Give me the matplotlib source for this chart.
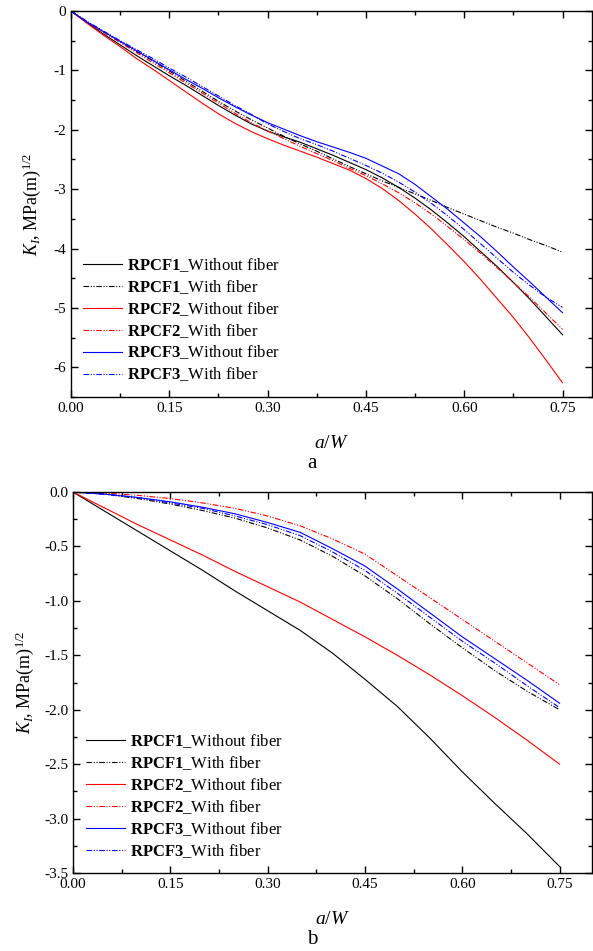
import numpy as np
import matplotlib
matplotlib.use("Agg")
import matplotlib.pyplot as plt
from matplotlib.ticker import MultipleLocator, FormatStrFormatter

plt.rcParams["font.family"] = ["Liberation Serif", "DejaVu Serif"]
plt.rcParams["mathtext.fontset"] = "custom"
plt.rcParams["mathtext.rm"] = "Liberation Serif"
plt.rcParams["mathtext.it"] = "Liberation Serif:italic"
plt.rcParams["mathtext.bf"] = "Liberation Serif:bold"
plt.rcParams["axes.unicode_minus"] = False

# ---- data ----
# panel a, a/W every 0.025
aw_a = [0.000, 0.025, 0.050, 0.075, 0.100, 0.125, 0.150, 0.175, 0.200, 0.225,
        0.250, 0.275, 0.300, 0.325, 0.350, 0.375, 0.400, 0.425, 0.450, 0.475,
        0.500, 0.525, 0.550, 0.575, 0.600, 0.625, 0.650, 0.675, 0.700, 0.725,
        0.750]
a_f1_wo = [0, -0.20, -0.39, -0.57, -0.75, -0.92, -1.09, -1.25, -1.42, -1.59,
           -1.75, -1.90, -2.02, -2.12, -2.21, -2.32, -2.43, -2.55, -2.67, -2.81,
           -2.97, -3.15, -3.35, -3.57, -3.80, -4.05, -4.30, -4.57, -4.85, -5.15,
           -5.45]
a_f1_w = [0, -0.18, -0.35, -0.52, -0.68, -0.84, -1.01, -1.18, -1.35, -1.52,
          -1.68, -1.83, -1.97, -2.11, -2.24, -2.36, -2.49, -2.62, -2.74, -2.86,
          -2.97, -3.08, -3.19, -3.31, -3.42, -3.53, -3.64, -3.74, -3.85, -3.95,
          -4.06]
a_f2_wo = [0, -0.21, -0.41, -0.60, -0.80, -0.98, -1.17, -1.36, -1.55, -1.73,
           -1.89, -2.03, -2.15, -2.26, -2.36, -2.46, -2.57, -2.68, -2.82, -2.99,
           -3.19, -3.42, -3.67, -3.94, -4.22, -4.52, -4.84, -5.16, -5.51, -5.88,
           -6.26]
a_f2_w = [0, -0.19, -0.36, -0.53, -0.70, -0.87, -1.04, -1.21, -1.38, -1.55,
          -1.72, -1.88, -2.02, -2.15, -2.28, -2.40, -2.52, -2.65, -2.77, -2.91,
          -3.06, -3.23, -3.42, -3.63, -3.85, -4.08, -4.32, -4.57, -4.82, -5.09,
          -5.36]
a_f3_wo = [0, -0.19, -0.35, -0.51, -0.67, -0.83, -0.99, -1.15, -1.30, -1.46,
           -1.61, -1.75, -1.88, -1.99, -2.10, -2.20, -2.29, -2.38, -2.48, -2.61,
           -2.74, -2.92, -3.13, -3.34, -3.57, -3.80, -4.05, -4.31, -4.56, -4.82,
           -5.08]
a_f3_w = [0, -0.18, -0.34, -0.50, -0.65, -0.80, -0.96, -1.11, -1.27, -1.43,
          -1.59, -1.74, -1.90, -2.03, -2.15, -2.25, -2.36, -2.48, -2.60, -2.73,
          -2.88, -3.05, -3.24, -3.45, -3.68, -3.92, -4.16, -4.40, -4.62, -4.82,
          -4.99]

# panel b, a/W every 0.05
aw_b = [0.00, 0.05, 0.10, 0.15, 0.20, 0.25, 0.30, 0.35,
        0.40, 0.45, 0.50, 0.55, 0.60, 0.65, 0.70, 0.75]
b_f1_wo = [0, -0.18, -0.36, -0.54, -0.72, -0.91, -1.09, -1.27,
           -1.48, -1.72, -1.97, -2.26, -2.57, -2.86, -3.14, -3.44]
b_f1_w = [0, -0.02, -0.06, -0.11, -0.17, -0.24, -0.33, -0.44,
          -0.59, -0.77, -0.98, -1.21, -1.43, -1.64, -1.83, -2.00]
b_f2_wo = [0, -0.15, -0.30, -0.44, -0.58, -0.73, -0.87, -1.01,
           -1.17, -1.33, -1.50, -1.68, -1.87, -2.07, -2.28, -2.50]
b_f2_w = [0, -0.01, -0.03, -0.06, -0.10, -0.15, -0.22, -0.31,
          -0.43, -0.57, -0.77, -0.97, -1.17, -1.37, -1.57, -1.77]
b_f3_wo = [0, -0.02, -0.05, -0.09, -0.14, -0.20, -0.28, -0.37,
           -0.52, -0.68, -0.89, -1.11, -1.33, -1.53, -1.73, -1.94]
b_f3_w = [0, -0.02, -0.05, -0.10, -0.15, -0.22, -0.30, -0.40,
          -0.55, -0.72, -0.93, -1.15, -1.37, -1.57, -1.78, -1.98]

labels = [r"$\mathbf{RPCF1}$_Without fiber", r"$\mathbf{RPCF1}$_With fiber",
          r"$\mathbf{RPCF2}$_Without fiber", r"$\mathbf{RPCF2}$_With fiber",
          r"$\mathbf{RPCF3}$_Without fiber", r"$\mathbf{RPCF3}$_With fiber"]
colors = ["black", "black", "red", "red", "blue", "blue"]
DD = (0, (5, 1.5, 1, 1.5, 1, 1.5))
styles = ["-", DD, "-", DD, "-", DD]

fig = plt.figure(figsize=(5.93, 9.51), dpi=100)
ax1 = fig.add_axes([0.1197, 0.5825, 0.8786, 0.4059])
ax2 = fig.add_axes([0.1231, 0.0820, 0.8752, 0.4006])


def draw(ax, x, series, ylim, ymaj, ymin, yfmt, xmax, leg_x):
    for y, c, ls, lab in zip(series, colors, styles, labels):
        ax.plot(x, y, color=c, ls=ls, lw=0.8, label=lab)
    ax.set_xlim(0, xmax)
    ax.set_ylim(*ylim)
    ax.xaxis.set_major_locator(MultipleLocator(0.15))
    ax.xaxis.set_minor_locator(MultipleLocator(0.075))
    ax.xaxis.set_major_formatter(FormatStrFormatter("%.2f"))
    ax.yaxis.set_major_locator(MultipleLocator(ymaj))
    ax.yaxis.set_minor_locator(MultipleLocator(ymin))
    ax.yaxis.set_major_formatter(FormatStrFormatter(yfmt))
    ax.tick_params(which="both", direction="in", top=True, right=True,
                   labelsize=11, width=1.0)
    ax.tick_params(which="major", length=5)
    ax.tick_params(which="minor", length=3)
    for sp in ax.spines.values():
        sp.set_linewidth(1.0)
    ax.set_xlabel(r"$a/W$", fontsize=14)
    ax.set_ylabel(r"$K_I$, MPa(m)$^{1/2}$", fontsize=13)
    ax.legend(loc="lower left", bbox_to_anchor=(leg_x, 0.035), frameon=False,
              fontsize=12, handlelength=2.35, handletextpad=0.3,
              labelspacing=0.25, borderpad=0, borderaxespad=0)


draw(ax1, aw_a, [a_f1_wo, a_f1_w, a_f2_wo, a_f2_w, a_f3_wo, a_f3_w],
     (-6.5, 0), 1, 0.5, "%g", 0.795, 0.023)
draw(ax2, aw_b, [b_f1_wo, b_f1_w, b_f2_wo, b_f2_w, b_f3_wo, b_f3_w],
     (-3.5, 0), 0.5, 0.25, "%.1f", 0.80, 0.025)

ax1.xaxis.set_label_coords(0.5, -0.098)
ax1.yaxis.set_label_coords(-0.053, 0.5)
ax2.xaxis.set_label_coords(0.5, -0.10)
ax2.yaxis.set_label_coords(-0.071, 0.5)

fig.text(312 / 593, 1 - 463 / 951, "a", ha="center", va="center", fontsize=15)
fig.text(312 / 593, 1 - 940 / 951, "b", ha="center", va="center", fontsize=15)

fig.savefig("out.png", dpi=100)
